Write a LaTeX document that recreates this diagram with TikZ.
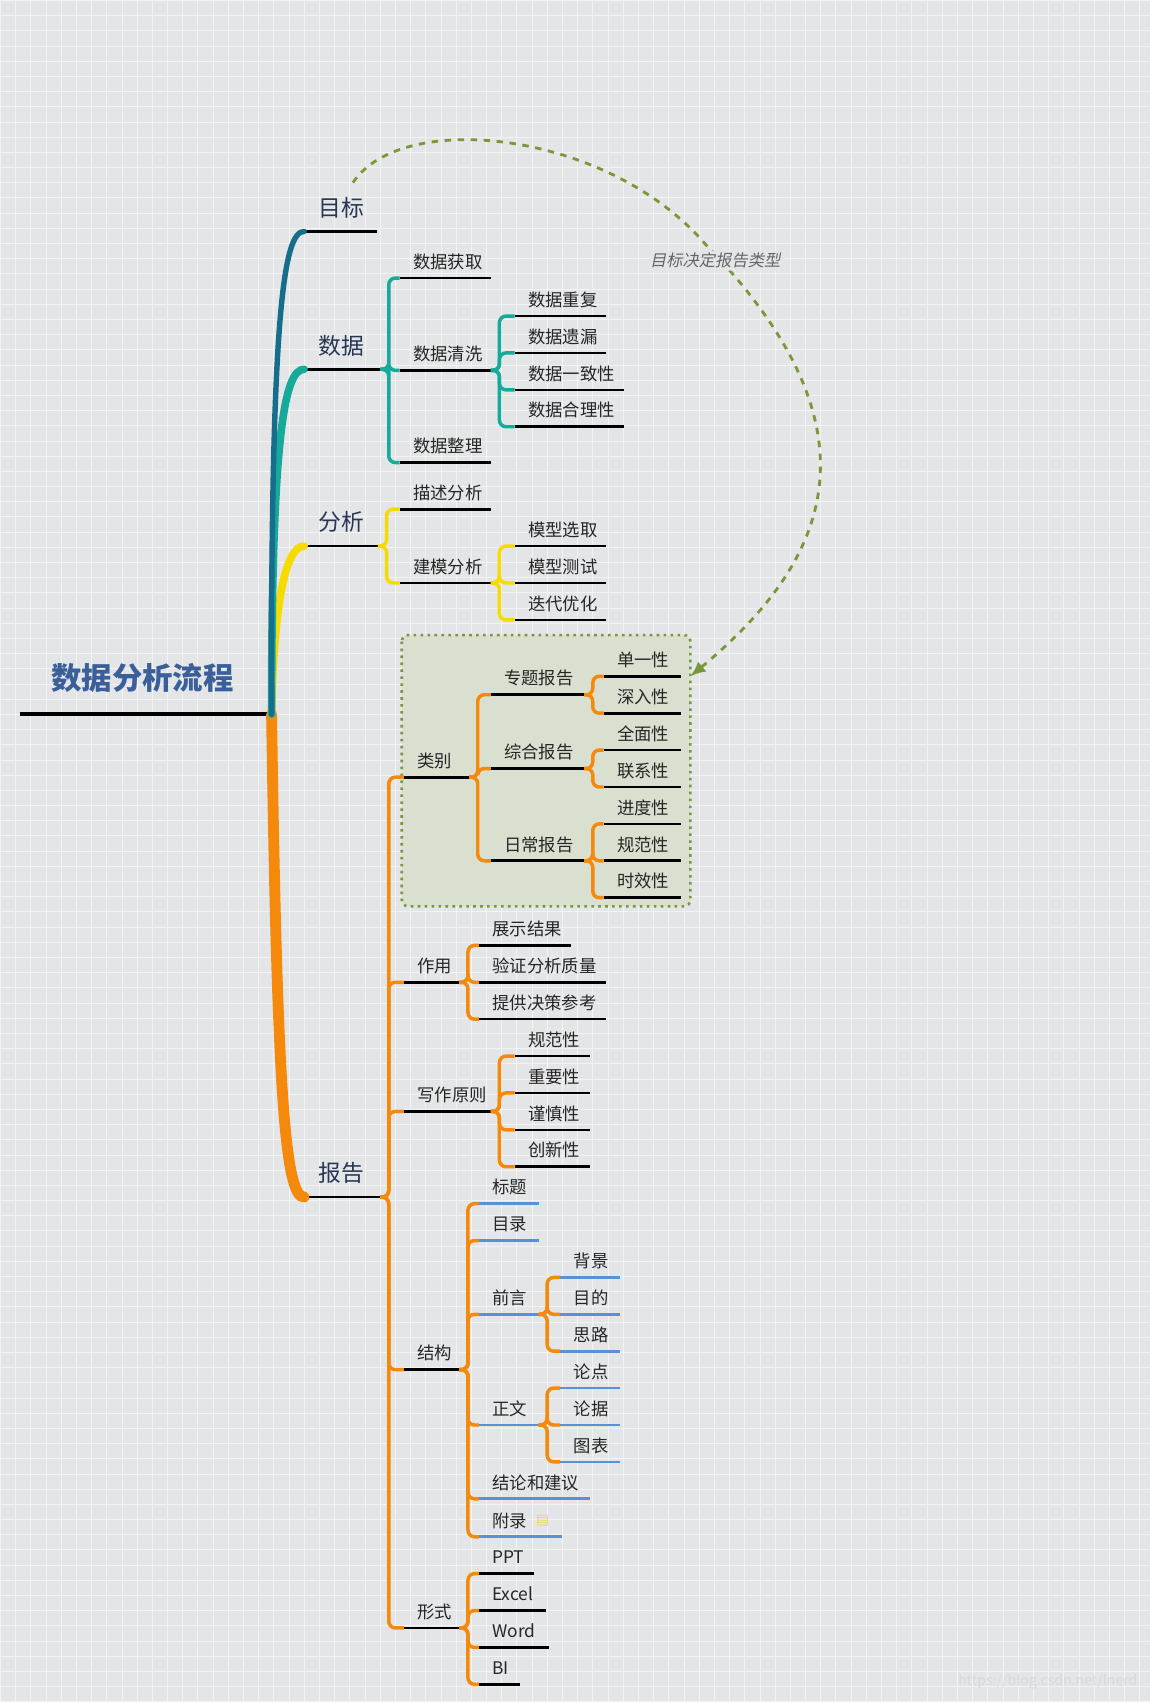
\documentclass[tikz,border=0pt]{standalone}
\usepackage{fontspec}
\setmainfont{Noto Sans CJK SC}
\usetikzlibrary{calc,arrows.meta}
\definecolor{bg}{HTML}{E3E5E7}
\definecolor{cteal}{HTML}{16AA9A}
\definecolor{cdark}{HTML}{176E8C}
\definecolor{cyel}{HTML}{F7DA00}
\definecolor{corg}{HTML}{F5890C}
\definecolor{cblue}{HTML}{5B8FD6}
\definecolor{olive}{HTML}{7A983A}
\tikzset{
 ul/.style={line width=1.2pt,black},
 br/.style={line width=1.6pt,rounded corners=3pt},
 lbl/.style={inner sep=0pt,font=\fontsize{8}{9}\selectfont,text=black!85},
 big/.style={font=\fontsize{10.5}{12}\selectfont,text={rgb,255:red,40;green,55;blue,85}},
 mainbr/.style={line width=3.5pt,line cap=round}
}
\newcommand{\nd}[6]{%
 \coordinate (#1-s) at (#2,#4); \coordinate (#1-e) at (#3,#4);
 \draw[ul,#6] (#1-s)--(#1-e);
 \node[lbl,anchor=base west] (#1) at ($(#1-s)+(12,-9)$) {#5};}
\newcommand{\cn}[3]{\draw[br,#3] (#1-e) -- ++(8,0) |- (#2-s);}
\begin{document}
\begin{tikzpicture}[x=0.5pt,y=-0.5pt]
\fill[bg] (0,0) rectangle (1060,1568);
\foreach \i in {0,14,...,1060}{\draw[white!55!bg,line width=0.3pt] (\i,0)--(\i,1568);}
\foreach \i in {0,14,...,1568}{\draw[white!55!bg,line width=0.3pt] (0,\i)--(1060,\i);}
\useasboundingbox (0,0) rectangle (1060,1568);
% dotted box
\draw[olive,dotted,line width=1.2pt,fill={rgb,255:red,218;green,224;blue,208},rounded corners=3pt] (370,585) rectangle (636,835);
% root
\coordinate (root-s) at (18,658); \coordinate (root-e) at (250,658);
\draw[line width=2pt] (root-s)--(root-e);
\node[font=\fontsize{14}{16}\selectfont\bfseries,text={rgb,255:red,58;green,95;blue,154}] (title) at (131,625) {数据分析流程};
% main nodes
\foreach \n/\t/\y/\e in {m1/目标/213/347,m2/数据/340/350,m3/分析/503/348,m4/报告/1103/350}{
 \coordinate (\n-s) at (280,\y); \coordinate (\n-e) at (\e,\y);
 \draw[ul] (\n-s)--(\n-e);
 \node[big,anchor=base west,inner sep=0pt] (\n) at ($(\n-s)+(13,-14)$) {\t};}
\draw[mainbr,corg,line width=5pt] (root-e) .. controls (255,1000) and (262,1103) .. (m4-s);
\draw[mainbr,cyel] (root-e) .. controls (252,560) and (262,503) .. (m3-s);
\draw[mainbr,cteal] (root-e) .. controls (250,400) and (262,340) .. (m2-s);
\draw[mainbr,cdark,line width=2.5pt] (root-e) .. controls (249,280) and (262,213) .. (m1-s);
% 数据
\nd{a1}{368}{452}{256}{数据获取}{}
\nd{a2}{368}{452}{341}{数据清洗}{}
\nd{a3}{368}{452}{426}{数据整理}{}
\foreach \c in {a1,a2,a3}{\cn{m2}{\c}{cteal}}
\nd{a21}{474}{558}{291}{数据重复}{}
\nd{a22}{474}{558}{325}{数据遗漏}{}
\nd{a23}{474}{575}{359}{数据一致性}{}
\nd{a24}{474}{575}{393}{数据合理性}{}
\foreach \c in {a21,a22,a23,a24}{\cn{a2}{\c}{cteal}}
% 分析
\nd{b1}{368}{452}{469}{描述分析}{}
\nd{b2}{368}{452}{537}{建模分析}{}
\foreach \c in {b1,b2}{\cn{m3}{\c}{cyel}}
\nd{b21}{474}{558}{503}{模型选取}{}
\nd{b22}{474}{558}{537}{模型测试}{}
\nd{b23}{474}{558}{571}{迭代优化}{}
\foreach \c in {b21,b22,b23}{\cn{b2}{\c}{cyel}}
% 报告
\nd{c1}{372}{432}{716}{类别}{}
\nd{c2}{372}{423}{905}{作用}{}
\nd{c3}{372}{452}{1024}{写作原则}{}
\nd{c4}{372}{423}{1262}{结构}{}
\nd{c5}{372}{423}{1500}{形式}{}
\foreach \c in {c1,c2,c3,c4,c5}{\cn{m4}{\c}{corg}}
\nd{d1}{452}{538}{640}{专题报告}{}
\nd{d2}{452}{538}{708}{综合报告}{}
\nd{d3}{452}{538}{793}{日常报告}{}
\foreach \c in {d1,d2,d3}{\cn{c1}{\c}{corg}}
\nd{d11}{556}{627}{623}{单一性}{}
\nd{d12}{556}{627}{657}{深入性}{}
\foreach \c in {d11,d12}{\cn{d1}{\c}{corg}}
\nd{d21}{556}{627}{691}{全面性}{}
\nd{d22}{556}{627}{725}{联系性}{}
\foreach \c in {d21,d22}{\cn{d2}{\c}{corg}}
\nd{d31}{556}{627}{759}{进度性}{}
\nd{d32}{556}{627}{793}{规范性}{}
\nd{d33}{556}{627}{827}{时效性}{}
\foreach \c in {d31,d32,d33}{\cn{d3}{\c}{corg}}
\nd{e1}{441}{526}{871}{展示结果}{}
\nd{e2}{441}{558}{905}{验证分析质量}{}
\nd{e3}{441}{558}{939}{提供决策参考}{}
\foreach \c in {e1,e2,e3}{\cn{c2}{\c}{corg}}
\nd{f1}{474}{543}{973}{规范性}{}
\nd{f2}{474}{543}{1007}{重要性}{}
\nd{f3}{474}{543}{1041}{谨慎性}{}
\nd{f4}{474}{543}{1075}{创新性}{}
\foreach \c in {f1,f2,f3,f4}{\cn{c3}{\c}{corg}}
\nd{g1}{441}{496}{1109}{标题}{cblue}
\nd{g2}{441}{496}{1143}{目录}{cblue}
\nd{g3}{441}{496}{1211}{前言}{cblue}
\nd{g4}{441}{496}{1313}{正文}{cblue}
\nd{g5}{441}{543}{1381}{结论和建议}{cblue}
\nd{g6}{441}{518}{1416}{附录}{cblue}
\node[text=cyel!80!orange,font=\fontsize{6}{7}\selectfont,inner sep=0pt] (gicon) at (500,1401) {▤};
\foreach \c in {g1,g2,g3,g4,g5,g6}{\cn{c4}{\c}{corg}}
\nd{g31}{516}{571}{1177}{背景}{cblue}
\nd{g32}{516}{571}{1211}{目的}{cblue}
\nd{g33}{516}{571}{1245}{思路}{cblue}
\foreach \c in {g31,g32,g33}{\cn{g3}{\c}{corg}}
\nd{g41}{516}{571}{1279}{论点}{cblue}
\nd{g42}{516}{571}{1313}{论据}{cblue}
\nd{g43}{516}{571}{1347}{图表}{cblue}
\foreach \c in {g41,g42,g43}{\cn{g4}{\c}{corg}}
\nd{h1}{441}{492}{1450}{PPT}{}
\nd{h2}{441}{503}{1484}{Excel}{}
\nd{h3}{441}{506}{1518}{Word}{}
\nd{h4}{441}{479}{1552}{BI}{}
\foreach \c in {h1,h2,h3,h4}{\cn{c5}{\c}{corg}}
% dashed relation
\coordinate (rs) at (325,168);
\coordinate (re) at (636,623);
\draw[olive,dashed,line width=1.3pt,-{Latex[length=7pt,width=6pt]}] (rs) .. controls (370,100) and (560,120) .. (650,225) .. controls (820,400) and (760,520) .. (re);
\node[font=\fontsize{7.5}{8}\selectfont,text=black!60,fill=bg,inner sep=1pt,xslant=0.2] (rl) at (660,240) {目标决定报告类型};
\node[font=\fontsize{6.5}{8}\selectfont,text=white!85!black,anchor=south east] (wm) at (1055,1563) {https://blog.csdn.net/lnerd};
\end{tikzpicture}
\end{document}
